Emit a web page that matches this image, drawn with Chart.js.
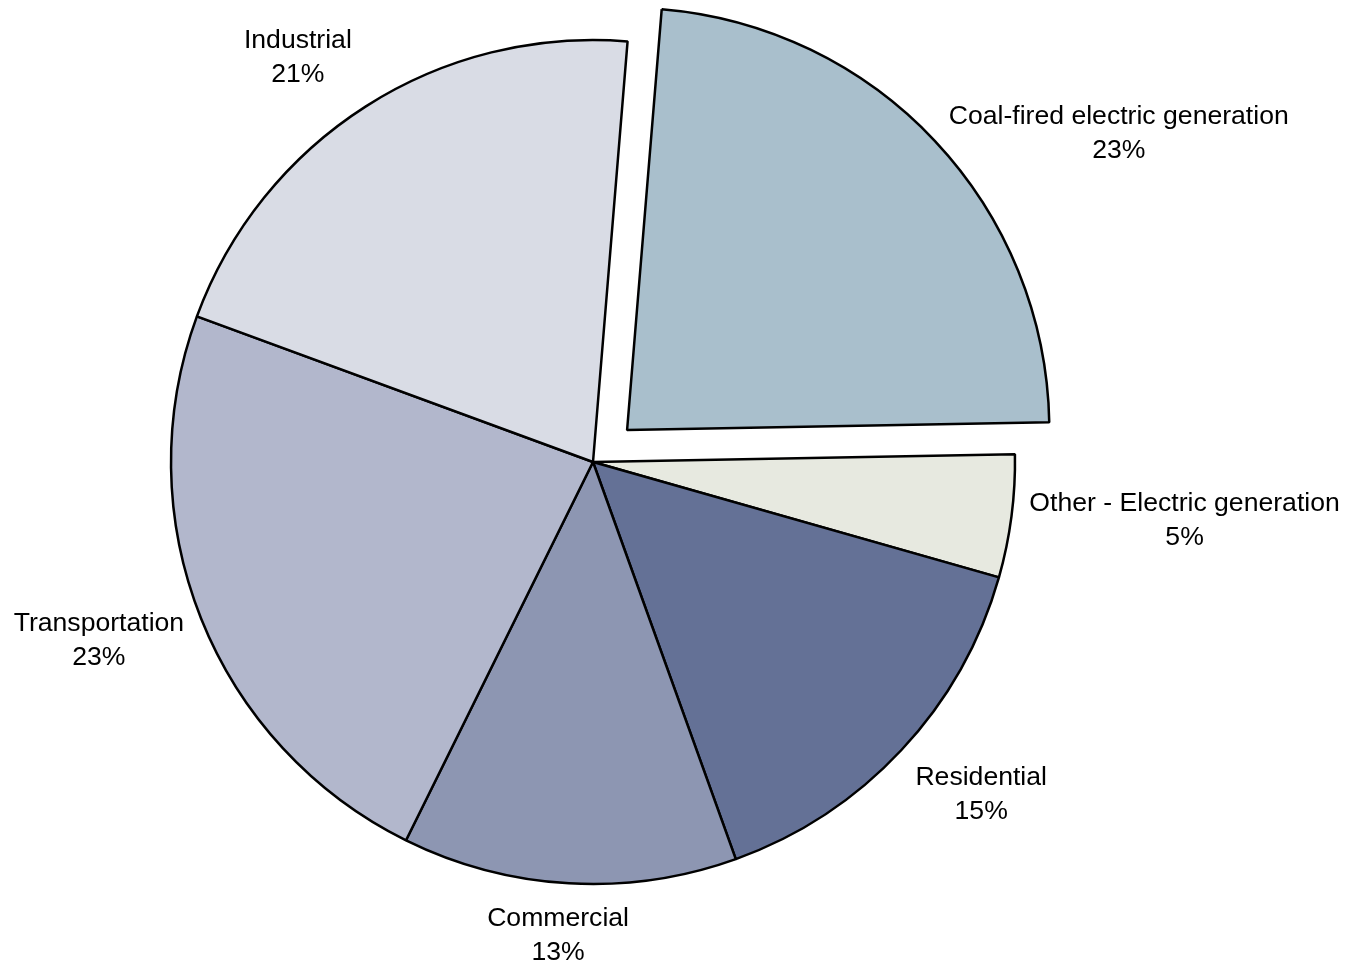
<!DOCTYPE html>
<html>
<head>
<meta charset="utf-8">
<script src="https://cdn.jsdelivr.net/npm/chart.js@4.4.1/dist/chart.umd.min.js"></script>
<style>
    html, body { margin: 0; padding: 0; background: #fff; }
    #wrap { width: 1351px; height: 964px; position: relative; }
</style>
</head>
<body>
<div id="wrap"><canvas id="pie"></canvas></div>
<script>
// Slice data (clockwise from the top, starting with the exploded slice)
const categories = [
    'Coal-fired electric generation',
    'Other - Electric generation',
    'Residential',
    'Commercial',
    'Transportation',
    'Industrial'
];
const shares = [23.4, 4.7, 15.1, 12.8, 23.3, 20.7];
const sliceColors = ['#A9BFCC', '#E7E9E0', '#647196', '#8D96B2', '#B2B7CC', '#D9DCE5'];

// Outside labels: name on one line, percentage below
const outsideLabels = {
    id: 'outsideLabels',
    afterDatasetsDraw(chart, args, opts) {
        const ctx = chart.ctx;
        const meta = chart.getDatasetMeta(0);
        const total = shares.reduce((a, b) => a + b, 0);
        const nudges = opts.nudges || [];
        ctx.save();
        ctx.font = opts.font;
        ctx.fillStyle = '#000';
        ctx.textAlign = 'center';
        ctx.textBaseline = 'middle';
        meta.data.forEach((arc, i) => {
            const p = arc.getProps(['x', 'y', 'startAngle', 'endAngle', 'outerRadius'], true);
            const mid = (p.startAngle + p.endAngle) / 2;
            const dx = Math.cos(mid), dy = Math.sin(mid);
            const shift = (arc.options.offset || 0) / 4;
            const r = p.outerRadius + opts.gap + shift;
            const ax = p.x + dx * r;
            const ay = p.y + dy * r;
            const line1 = categories[i];
            const line2 = Math.round(shares[i] / total * 100) + '%';
            const w = Math.max(ctx.measureText(line1).width, ctx.measureText(line2).width);
            const h = opts.lineHeight * 2;
            const clamp = v => Math.max(-1, Math.min(1, v));
            const nd = nudges[i] || [0, 0];
            const cx = ax + w / 2 * clamp(dx * 2) + nd[0];
            const cy = ay + h / 2 * clamp(dy * 2) + nd[1];
            ctx.fillText(line1, cx, cy - opts.lineHeight / 2);
            ctx.fillText(line2, cx, cy + opts.lineHeight / 2);
        });
        ctx.restore();
    }
};

const chart = new Chart(document.getElementById('pie').getContext('2d'), {
    type: 'pie',
    data: {
        labels: categories,
        datasets: [{
            data: shares,
            backgroundColor: sliceColors,
            borderColor: '#000',
            borderWidth: 2.5,
            offset: [187, 0, 0, 0, 0, 0],
            hoverOffset: 0
        }]
    },
    options: {
        responsive: true,
        maintainAspectRatio: false,
        animation: false,
        rotation: 4.7,
        radius: 422,
        layout: { padding: { left: 0, right: 165, top: 0, bottom: 40 } },
        events: [],
        plugins: {
            legend: { display: false },
            tooltip: { enabled: false },
            outsideLabels: {
                font: '26.6px "Liberation Sans", Arial, sans-serif',
                lineHeight: 34,
                gap: 15,
                nudges: [[3, 37], [3, -6], [3, 0], [-2, 3], [-3, -9], [-6, -2]]
            }
        }
    },
    plugins: [outsideLabels]
});
</script>
</body>
</html>
